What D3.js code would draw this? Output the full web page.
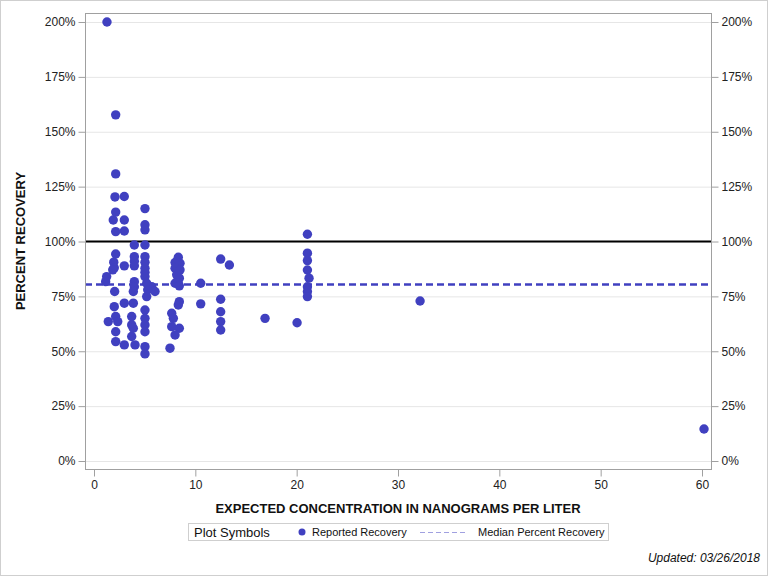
<!DOCTYPE html>
<html><head><meta charset="utf-8">
<script src="https://cdn.jsdelivr.net/npm/d3@7"></script>
<style>body{margin:0;background:#fff}svg{display:block}text{font-family:"Liberation Sans",Arial,sans-serif}</style>
</head><body><svg id="c" width="768" height="576"></svg>
<script>
// Expected concentration (ng/L) — one line per group, aligned with recovery below
const concentration = [
 1.28, 1.25, 1.15, 1.41,
 2.14, 2.14, 2.07, 2.99, 2.14, 1.90, 2.99, 2.14, 2.99, 2.14, 1.95, 2.99, 2.00, 1.85, 2.04, 2.00, 2.99, 2.14, 2.34, 2.14, 2.14, 2.99,
 3.98, 3.98, 3.98, 3.98, 3.98, 3.98, 3.88, 3.88, 3.72, 3.72, 3.88, 3.72, 4.05,
 5.03, 5.03, 5.03, 5.03, 5.03, 5.03, 5.03, 5.03, 5.03, 5.20, 5.20, 5.03, 5.03, 5.03, 5.03, 5.03, 5.03, 5.70, 6.02, 5.30,
 8.32, 8.00, 8.49, 8.00, 8.49, 8.16, 8.42, 8.00, 8.32, 8.42, 8.42, 8.32, 7.67, 7.83, 7.67, 8.42, 8.00, 7.50,
 10.53, 10.53, 12.50, 12.50, 12.50, 12.50, 12.50, 13.36, 16.88, 20.04,
 21.06, 21.06, 21.06, 21.06, 21.22, 21.06, 21.06, 21.06,
 32.18, 60.20
];
// Percent recovery
const recovery = [
 200.0, 84.0, 81.7, 63.5,
 157.7, 130.8, 120.3, 120.5, 113.4, 109.8, 109.8, 104.5, 104.8, 94.3, 90.6, 88.9, 88.0, 87.1, 77.2, 70.3, 71.9, 65.8, 63.5, 58.9, 54.4, 52.9,
 98.4, 93.1, 91.0, 88.9, 81.7, 79.4, 77.2, 71.9, 65.8, 62.0, 60.5, 56.7, 52.9,
 115.0, 107.6, 105.3, 98.4, 93.1, 90.5, 87.8, 86.0, 84.0, 81.0, 74.9, 68.8, 65.0, 62.0, 58.9, 52.1, 48.8, 79.4, 77.2, 78.0,
 92.8, 90.4, 90.1, 87.8, 87.1, 84.8, 83.3, 81.0, 81.0, 79.8, 72.6, 71.1, 67.3, 65.0, 61.2, 60.5, 57.4, 51.4,
 81.0, 71.6, 92.0, 73.7, 68.0, 63.5, 59.7, 89.3, 65.0, 63.0,
 103.3, 94.7, 91.3, 87.0, 83.3, 79.4, 77.2, 74.9,
 72.9, 14.6
];
const yTicks = [0,25,50,75,100,125,150,175,200];
const xTicks = [0,10,20,30,40,50,60];
const medianRecovery = 80.4;
const referenceLine = 100;

const svg = d3.select("#c");
const W = 768, H = 576;
const frame = {l:85, r:711, t:13, b:469};
const x = d3.scaleLinear().domain([0,60]).range([94,702]);
const y = d3.scaleLinear().domain([0,200]).range([461,22]);
const blue = "#4040c0";

svg.append("rect").attr("x",0.5).attr("y",0.5).attr("width",W-1).attr("height",H-1)
  .attr("fill","#fff").attr("stroke","#cfcfcf");

// gridlines
svg.append("g").selectAll("line").data(yTicks).join("line")
  .attr("x1",frame.l).attr("x2",frame.r)
  .attr("y1",d=>y(d)+0.5).attr("y2",d=>y(d)+0.5)
  .attr("stroke","#e6e6e6");

// 100% reference line
svg.append("line").attr("x1",frame.l).attr("x2",frame.r)
  .attr("y1",y(referenceLine)).attr("y2",y(referenceLine))
  .attr("stroke","#000").attr("stroke-width",2);

// points
const n = Math.min(concentration.length, recovery.length);
svg.append("g").selectAll("circle").data(d3.range(n).map(i=>[concentration[i],recovery[i]])).join("circle")
  .attr("cx",d=>x(d[0])).attr("cy",d=>y(d[1])).attr("r",4.7).attr("fill",blue);

// median line
svg.append("line").attr("x1",frame.l).attr("x2",frame.r)
  .attr("y1",y(medianRecovery)).attr("y2",y(medianRecovery))
  .attr("stroke",blue).attr("stroke-width",2.5).attr("stroke-dasharray","7,4");

// frame
svg.append("rect").attr("x",frame.l+0.5).attr("y",frame.t+0.5)
  .attr("width",frame.r-frame.l).attr("height",frame.b-frame.t)
  .attr("fill","none").attr("stroke","#a0a0a0");

const fmt = d=>d+"%";
const gl = svg.append("g").attr("transform",`translate(${frame.l+0.5},0)`)
  .call(d3.axisLeft(y).tickValues(yTicks).tickFormat(fmt).tickSize(7).tickPadding(3));
const gr = svg.append("g").attr("transform",`translate(${frame.r+0.5},0)`)
  .call(d3.axisRight(y).tickValues(yTicks).tickFormat(fmt).tickSize(7).tickPadding(3));
const gb = svg.append("g").attr("transform",`translate(0,${frame.b+0.5})`)
  .call(d3.axisBottom(x).tickValues(xTicks).tickFormat(d3.format("d")).tickSize(7).tickPadding(4));
[gl,gr,gb].forEach(g=>{
  g.select(".domain").remove();
  g.selectAll(".tick line").attr("stroke","#a0a0a0");
  g.selectAll(".tick text").attr("fill","#222").style("font-size","12px")
   .style("font-family","'Liberation Sans Narrow','Liberation Sans',Arial,sans-serif");
});

// axis titles
svg.append("text").attr("x",398).attr("y",513).attr("text-anchor","middle")
  .style("font-weight","bold").style("font-size","13px").attr("fill","#111")
  .style("font-family","'Liberation Sans Narrow','Liberation Sans',Arial,sans-serif")
  .text("EXPECTED CONCENTRATION IN NANOGRAMS PER LITER");
svg.append("text").attr("transform","translate(25,241) rotate(-90)").attr("text-anchor","middle")
  .style("font-weight","bold").style("font-size","13px").attr("fill","#111")
  .style("font-family","'Liberation Sans Narrow','Liberation Sans',Arial,sans-serif")
  .text("PERCENT RECOVERY");

// legend
const lg = svg.append("g");
lg.append("rect").attr("x",188.5).attr("y",523.5).attr("width",420).attr("height",17)
  .attr("fill","#fff").attr("stroke","#cfcfcf");
lg.append("text").attr("x",194).attr("y",537).style("font-size","13px").attr("fill","#111").text("Plot Symbols");
lg.append("circle").attr("cx",302).attr("cy",532).attr("r",3.5).attr("fill",blue);
lg.append("text").attr("x",312).attr("y",536).style("font-size","11px").attr("fill","#111").text("Reported Recovery");
lg.append("line").attr("x1",420).attr("x2",467).attr("y1",532.5).attr("y2",532.5)
  .attr("stroke","#a0a0e0").attr("stroke-width",1).attr("stroke-dasharray","5,3");
lg.append("text").attr("x",478).attr("y",536).style("font-size","11px").attr("fill","#111").text("Median Percent Recovery");

svg.append("text").attr("x",760).attr("y",562).attr("text-anchor","end")
  .style("font-style","italic").style("font-size","12px").attr("fill","#111").text("Updated: 03/26/2018");
</script></body></html>
